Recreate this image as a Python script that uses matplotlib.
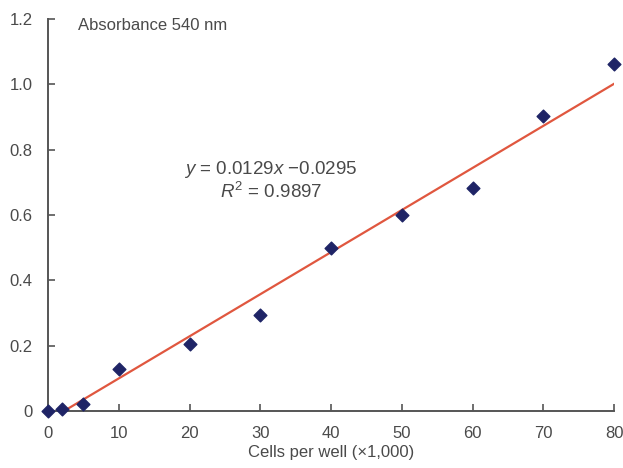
import matplotlib
matplotlib.use("Agg")
import matplotlib.pyplot as plt
import numpy as np

# Data
cells = [0, 2, 5, 10, 20, 30, 40, 50, 60, 70, 80]
absorbance = [0.0, 0.007, 0.022, 0.127, 0.205, 0.295, 0.499, 0.601, 0.683, 0.904, 1.062]
slope = 0.0129
intercept = -0.0295
x_ticks = [0, 10, 20, 30, 40, 50, 60, 70, 80]
y_ticks = [0, 0.2, 0.4, 0.6, 0.8, 1.0, 1.2]
y_tick_labels = ["0", "0.2", "0.4", "0.6", "0.8", "1.0", "1.2"]

TEXT_COLOR = "#4a4a4a"
MARKER_COLOR = "#1f2466"
LINE_COLOR = "#e0573f"

matplotlib.rcParams["font.family"] = ["Liberation Sans", "DejaVu Sans"]
matplotlib.rcParams["mathtext.fontset"] = "custom"
matplotlib.rcParams["mathtext.rm"] = "Liberation Sans"
matplotlib.rcParams["mathtext.it"] = "Liberation Sans:italic"

fig = plt.figure(figsize=(6.23, 4.68), dpi=100)
ax = fig.add_axes([0.077, 0.122, 0.909, 0.837])

# trend line, starting where it crosses zero
x_start = -intercept / slope
fit_x = np.array([x_start, 80])
ax.plot(fit_x, slope * fit_x + intercept, color=LINE_COLOR, linewidth=1.6, zorder=2)
ax.scatter(cells, absorbance, marker="D", s=42, color=MARKER_COLOR, zorder=3, clip_on=False)

ax.set_xlim(0, 80)
ax.set_ylim(0, 1.2)
ax.set_xticks(x_ticks)
ax.set_yticks(y_ticks)
ax.set_yticklabels(y_tick_labels)
ax.tick_params(direction="in", length=5, width=1.2, colors="#555555",
               labelcolor=TEXT_COLOR, labelsize=12)
ax.tick_params(axis="x", pad=11)
ax.tick_params(axis="y", pad=11)
for side in ("top", "right"):
    ax.spines[side].set_visible(False)
for side in ("left", "bottom"):
    ax.spines[side].set_color("#555555")
    ax.spines[side].set_linewidth(1.4)

ax.set_xlabel("Cells per well (×1,000)", fontsize=12, color=TEXT_COLOR, labelpad=3)
ax.text(4.2, 1.205, "Absorbance 540 nm", fontsize=12, color=TEXT_COLOR, va="top")
ax.text(31.5, 0.738, r"$y$ = 0.0129$x$ $-$0.0295", fontsize=13.5, color=TEXT_COLOR,
        ha="center", va="center")
ax.text(31.5, 0.670, r"$R^2$ = 0.9897", fontsize=13.5, color=TEXT_COLOR,
        ha="center", va="center")

fig.savefig("out.png", dpi=100)
